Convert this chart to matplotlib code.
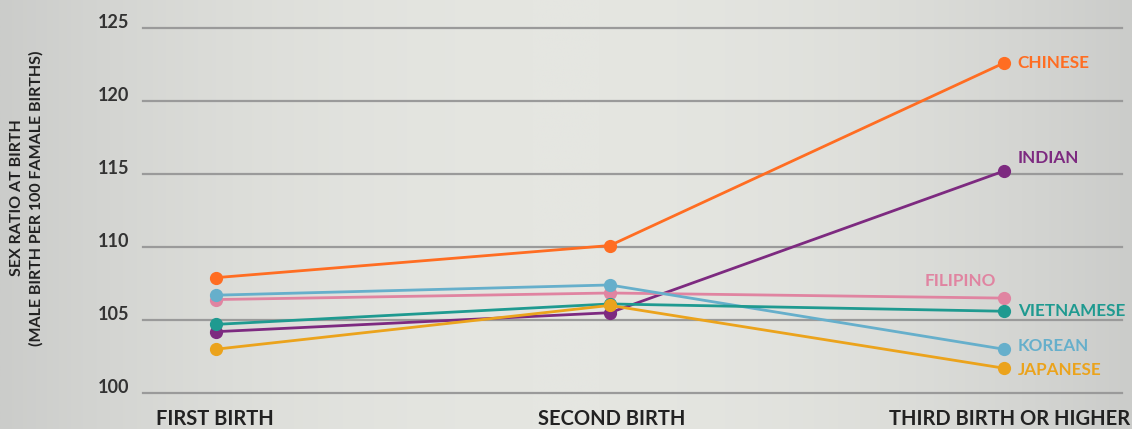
import numpy as np
import matplotlib
matplotlib.use("Agg")
import matplotlib.pyplot as plt
from matplotlib.colors import LinearSegmentedColormap

categories = ["FIRST BIRTH", "SECOND BIRTH", "THIRD BIRTH OR HIGHER"]
groups = ["CHINESE", "INDIAN", "FILIPINO", "KOREAN", "VIETNAMESE", "JAPANESE"]
chinese = [107.9, 110.1, 122.6]
indian = [104.2, 105.5, 115.2]
filipino = [106.4, 106.85, 106.5]
korean = [106.7, 107.4, 103.0]
vietnamese = [104.7, 106.1, 105.6]
japanese = [103.0, 106.0, 101.7]
yticks = [100, 105, 110, 115, 120, 125]

colors = {
    "CHINESE": "#ff6d22",
    "INDIAN": "#7d2a80",
    "FILIPINO": "#e084a1",
    "KOREAN": "#66afcb",
    "VIETNAMESE": "#1f9a90",
    "JAPANESE": "#eba31c",
}
series = {
    "CHINESE": chinese,
    "INDIAN": indian,
    "FILIPINO": filipino,
    "KOREAN": korean,
    "VIETNAMESE": vietnamese,
    "JAPANESE": japanese,
}
plt.rcParams['font.family'] = ['Lato', 'DejaVu Sans']
FW = "bold"

W, H = 1132, 429
fig = plt.figure(figsize=(W / 100, H / 100), dpi=100)

# background gradient
bg = fig.add_axes([0, 0, 1, 1])
xs = np.linspace(-1, 1, 400)
grad = 1 - xs ** 2
grad = np.tile(grad, (10, 1))
cmap = LinearSegmentedColormap.from_list("bg", ["#cbccca", "#e5e6e1"])
bg.imshow(grad, aspect="auto", cmap=cmap, extent=[0, 1, 0, 1])
bg.set_axis_off()

left, right = 143 / W, 1122 / W
bottom, top = 1 - 393 / H, 1 - 28 / H
ax = fig.add_axes([left, bottom, right - left, top - bottom])
ax.patch.set_alpha(0)
x = np.arange(len(categories))
ax.set_xlim(-0.185, 2.30)
ax.set_ylim(100, 125)
for t in yticks:
    ax.axhline(t, color="#9a9a9a", lw=1.6, zorder=1, clip_on=False)

for g in groups:
    ax.plot(x, series[g], color=colors[g], lw=2.0, marker="o", ms=8.5,
            zorder=3, clip_on=False, solid_capstyle="round")

for s in ax.spines.values():
    s.set_visible(False)
ax.set_yticks(yticks)
ax.set_yticklabels([str(t) for t in yticks], fontsize=13, fontweight=FW, color="#333333")
ax.tick_params(axis="y", length=0, pad=20)
for lbl in ax.get_yticklabels():
    lbl.set_va("baseline")
ax.set_xticks([])
ax.tick_params(axis="y", pad=10)

xlab_pos = [-0.003, 1.005, 2.015]
for xp, c in zip(xlab_pos, categories):
    ax.text(xp, 98.25, c, ha="center", va="center", fontsize=14.5,
            fontweight=FW, color="#222222", clip_on=False)

label_off = {
    "CHINESE": (0.035, 0.0, "left"),
    "INDIAN": (0.035, 0.9, "left"),
    "FILIPINO": (-0.02, 1.2, "right"),
    "KOREAN": (0.035, 0.2, "left"),
    "VIETNAMESE": (0.035, 0.0, "left"),
    "JAPANESE": (0.035, -0.15, "left"),
}
for g in groups:
    dx, dy, ha = label_off[g]
    ax.text(2 + dx, series[g][2] + dy, g, ha=ha, va="center", fontsize=12.3,
            fontweight=FW, color=colors[g], clip_on=False)

fig.text(17 / W, 1 - 198 / H, "SEX RATIO AT BIRTH", rotation=90, ha="center",
         va="center", fontsize=11.5, fontweight=FW, color="#222222")
fig.text(36 / W, 1 - 198 / H, "(MALE BIRTH PER 100 FAMALE BIRTHS)", rotation=90,
         ha="center", va="center", fontsize=11.5, fontweight=FW, color="#222222")

fig.savefig("out.png", dpi=100)
